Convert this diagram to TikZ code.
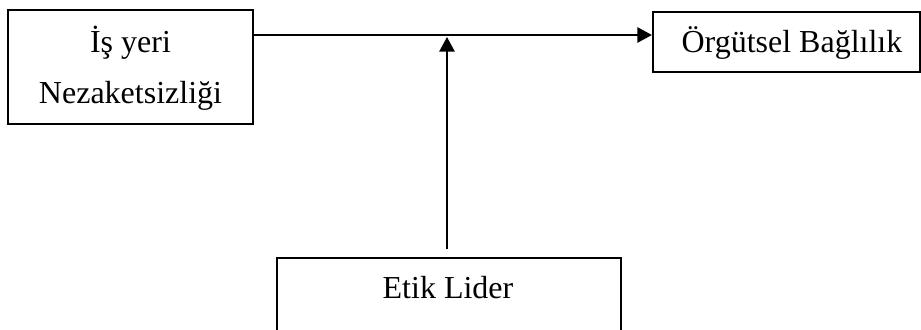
\documentclass[tikz,border=0pt]{standalone}
\usepackage{fontspec}
\setmainfont{Liberation Serif}
\usetikzlibrary{arrows.meta}
\begin{document}
\begin{tikzpicture}[x=0.75pt,y=-0.75pt,
  box/.style={draw=black,line width=1.6pt,inner sep=0pt,fill=none},
  lbl/.style={anchor=base,inner sep=0pt,font=\fontsize{24}{28}\selectfont},
  link/.style={line width=1.4pt,-{Triangle[length=11pt,width=11.5pt]}}]
  \useasboundingbox (0,0) rectangle (921,329);
  \clip (0,0) rectangle (921,329);
  % boxes
  \node[box,minimum width=245*0.75pt,minimum height=114*0.75pt] (iy) at (130.5,67) {};
  \node[box,minimum width=267*0.75pt,minimum height=60*0.75pt] (ob) at (786.5,42) {};
  \node[box,minimum width=344*0.75pt,minimum height=90*0.75pt] (el) at (449,303) {};
  % labels
  \node[lbl] (iyt1) at (130.5,52) {İş yeri};
  \node[lbl] (iyt2) at (130.5,103) {Nezaketsizliği};
  \node[lbl] (obt) at (792,52) {Örgütsel Bağlılık};
  \node[lbl] (elt) at (448,298) {Etik Lider};
  % connectors
  \coordinate (h) at (0,35);
  \coordinate (vt) at (0,37);
  \draw[link] (iy.east |- h) -- (ob.west |- h);
  \draw[link] ([xshift=-1.5pt,yshift=6pt]el.north) -- ([xshift=-1.5pt]el.north |- vt);
\end{tikzpicture}
\end{document}
